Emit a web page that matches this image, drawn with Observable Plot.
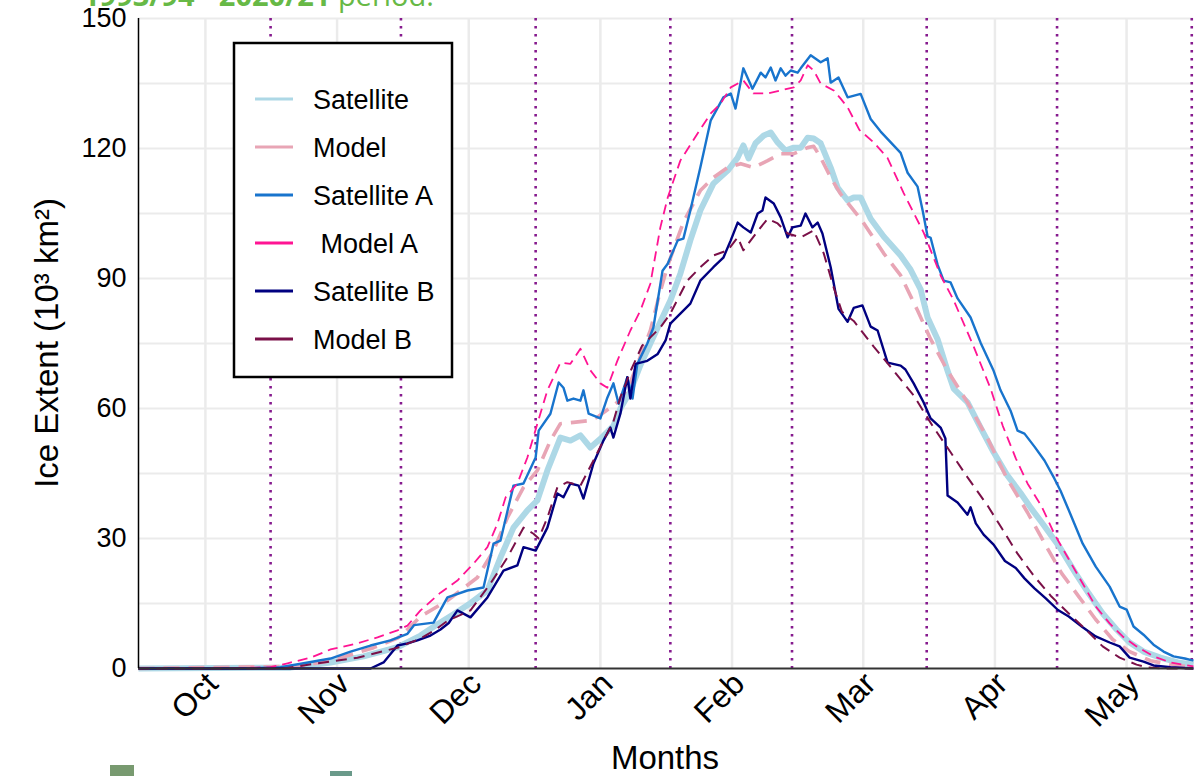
<!DOCTYPE html>
<html><head><meta charset="utf-8">
<script src="https://cdn.jsdelivr.net/npm/d3@7"></script>
<script src="https://cdn.jsdelivr.net/npm/@observablehq/plot@0.6"></script>
<style>
html,body{margin:0;padding:0;background:#fff;}
body{width:1204px;height:776px;overflow:hidden;position:relative;font-family:"Liberation Sans",Arial,sans-serif;}
#hdr{position:absolute;left:83px;top:-20px;font-family:"Open Sans",sans-serif;font-size:29px;line-height:29px;color:#67b946;white-space:nowrap;}
#chart{position:absolute;left:0;top:0;}
.sq{position:absolute;}
</style></head><body>
<div id="chart"></div>
<div id="hdr"><b>1993/94 - 2020/21</b> period.</div>
<div class="sq" style="left:110px;top:765px;width:24px;height:11px;background:#789a70"></div>
<div class="sq" style="left:330px;top:771px;width:22px;height:5px;background:#6a9a8a"></div>
<script>
// ---- data: [day of season (0 = 1 Oct), ice extent (10^3 km^2)] ----
const satellite = [[-15.4,0],[19.6,0.2],[28.8,1.4],[36.4,2.8],[44.2,4.9],[49.5,7.6],[53.4,10.2],[57.1,12.5],[60.9,15],[64.9,18],[67.9,25.6],[70.9,32.5],[74.1,36.5],[76.4,38.8],[78.7,45.7],[81.7,53.3],[84.0,52.6],[86.3,53.8],[88.6,51],[90.9,53],[93.9,56],[95.5,60],[97.8,64],[100.1,70],[102.4,75],[104.1,78.7],[107.0,84.9],[109.3,91.1],[111.6,98.8],[113.9,105.7],[116.9,111.9],[120.2,114.9],[122.5,117.9],[123.8,120.7],[125.0,117.7],[126.6,121.2],[128.5,123],[130.1,123.7],[131.7,121.4],[133.5,119.5],[135.4,120.2],[137.0,120.2],[138.6,122.5],[140.0,122.3],[141.6,121.2],[143.9,115.6],[145.5,111],[147.8,108],[149.2,108.7],[150.8,108.7],[153.1,103.8],[156.1,99.7],[160.0,95.3],[162.3,92],[164.6,87.5],[166.2,81],[168.5,76],[170.8,68.7],[172.2,64.6],[175.4,61.4],[178.4,55.6],[181.4,49.9],[184.6,44.5],[187.6,40.5],[190.0,37],[192.4,33.8],[196.6,28],[200.3,21.9],[203.3,17.3],[206.5,12.7],[209.7,9],[212.7,6],[215.9,3.9],[219.8,2.5],[223.8,1.4],[227.4,0.9]];
const model = [[-15.4,0],[21.2,0.5],[28.8,1.8],[38.7,4.8],[44.2,7],[46.5,9],[49.5,12],[55.7,15.7],[62.6,21],[66.3,27.2],[69.5,34.8],[73.2,41.8],[76.4,45.7],[79.4,52.6],[81.7,56.5],[84.7,56.8],[88.2,57.2],[90.2,58],[93.2,60.2],[95.5,62],[97.8,66],[100.1,72],[102.4,78],[104.4,86],[106.4,93],[110.0,103],[113.9,110.3],[116.9,113.3],[120.2,115.6],[123.2,116.5],[126.1,115.6],[129.4,117.2],[132.4,118.8],[135.4,118.8],[138.6,120.2],[140.0,120.5],[141.6,117.9],[143.9,113.3],[146.2,109.5],[149.2,105.7],[151.2,103.2],[156.1,95.8],[160.0,90.7],[163.9,82.6],[166.9,76],[170.8,68.7],[175.4,61.4],[180.0,53.1],[184.4,44],[189.2,36],[193.4,28.4],[197.1,21.9],[201.0,16.6],[204.9,11.3],[208.8,6.7],[212.7,3.9],[217.5,1.8],[222.1,0.9],[227.4,0.3]];
const satelliteA = [[-15.4,0],[10,0],[17.3,0.3],[22.6,1.2],[28.8,2.3],[33.4,3.9],[38.0,5.3],[42.6,6.5],[46.5,8.0],[48.0,10.0],[52.5,10.6],[55.7,16.4],[60.3,18],[64.0,18.7],[66.3,28.8],[67.9,29.5],[70.9,42.2],[73.2,42.7],[76.0,48.7],[76.7,54.9],[79.4,58.8],[81.3,66],[82.4,64.8],[83.3,61.8],[84.7,62.3],[86.3,61.8],[87.0,64.2],[88.2,58.8],[90.9,57.7],[92.5,62.5],[93.9,65.8],[95.1,61.1],[97.1,67.2],[98.3,62.3],[99.4,70.3],[101.7,75],[103.1,78.7],[105.2,91.8],[106.4,93.4],[108.7,98.8],[110.0,99.2],[111.6,105.7],[113.9,115.6],[116.3,126.5],[119.2,131.8],[120.9,132.7],[122.0,129.2],[123.8,138.5],[125.9,133.8],[127.8,137.5],[128.9,136.4],[130.1,138.7],[131.2,135.7],[132.4,138.5],[133.5,136.8],[134.7,138],[136.3,137.5],[137.0,138.5],[139.3,141.5],[141.6,139.9],[143.2,140.8],[143.9,135.2],[145.7,136.4],[147.8,131.8],[150.8,132.6],[153.1,126.8],[155.4,123.9],[160.0,119],[161.6,114.4],[163.9,111.2],[165.1,105.5],[166.2,99.7],[166.9,99.4],[168.5,93.2],[169.9,89.5],[171.5,89.1],[173.1,85.4],[176.1,81],[178.4,75.2],[181.4,68.7],[183.0,64.2],[185.3,59.5],[186.9,54.9],[188.5,54.2],[190.8,51.2],[193.1,48],[195.4,43.8],[196.8,41],[198.7,36.5],[201.9,28.8],[204.9,23.5],[208.1,18.9],[210.4,14.3],[212.0,13.6],[213.6,9.7],[215.9,7.8],[218.2,5.5],[220.5,3.9],[222.8,2.8],[225.4,2.3],[227.4,1.8]];
const modelA = [[-15.4,0],[4,0],[15,0.3],[18.9,1.2],[24.2,2.5],[28.8,4.4],[35,5.8],[39.6,7.2],[44.2,8.8],[46.5,9.9],[49.5,13.4],[54.1,17.5],[58.0,20.3],[61.7,24.2],[64.9,28],[67.2,33.4],[69.1,39.5],[71.8,42.7],[74.1,48.7],[76.4,56.5],[78.7,64.2],[81.7,70.6],[84.0,70.3],[86.3,73.8],[88.6,68.8],[90.9,65.8],[92.5,64.8],[94.8,71],[97.8,78],[100.1,82.6],[102.4,88.8],[104.7,101.8],[106.4,108.7],[109.3,117.2],[113.3,123.5],[116.3,128.1],[118.6,130.4],[120.9,134.1],[123.8,135.7],[126.1,132.7],[129.4,132.7],[132.4,133.4],[135.4,134.1],[137.0,135.7],[138.6,139.2],[140.0,138],[141.6,135],[144.6,133.4],[146.2,131.5],[147.8,129.5],[150.5,124.3],[153.8,121.4],[157.0,117.8],[160.7,109.7],[165.3,100.6],[169.2,90.7],[172.2,85],[176.8,74.3],[180.7,64.6],[183.5,56],[186.5,48.5],[189.2,42.7],[192.4,37.5],[195.4,31],[198.7,25.2],[201.9,19.6],[204.9,14.3],[208.1,10.4],[211.1,7.4],[214.3,5.1],[218.2,2.8],[222.1,1.4],[227.4,0.5]];
const satelliteB = [[-15.4,0],[38,0],[41,1.4],[44.2,5.3],[46.5,5.8],[48.8,6.5],[51.8,7.6],[54.1,9.0],[56,10.5],[58.0,13.4],[61.0,11.8],[64.9,16.4],[68.6,22.6],[71.8,23.8],[73.2,28],[76.0,27.2],[78.7,32.5],[81.0,40.4],[82.4,39.5],[84.0,42.7],[85.9,42.2],[87.0,39.2],[89.3,47.3],[91.6,52.6],[93.2,55.6],[93.9,53.3],[95.5,58.8],[97.1,67.2],[97.8,62.3],[99.0,70.3],[101.7,71],[104.1,72.6],[105.9,75.7],[107.0,79.6],[109.3,81.9],[111.6,84.2],[113.9,89.5],[116.9,92.6],[119.2,94.8],[120.9,98.8],[122.5,102.9],[123.8,101.8],[125.5,100.6],[127.1,105],[128.2,105.7],[128.9,108.7],[130.8,107.3],[132.4,104.1],[134.0,99.5],[135.1,101.8],[137.0,102.2],[138.1,105],[139.7,101.8],[140.9,102.9],[142.0,100.4],[143.9,92.6],[145.7,83],[147.8,80],[149.2,83.2],[151.2,83.8],[153.1,78.9],[154.7,78],[157.0,70.6],[160.0,69.9],[161.1,69],[163.0,65.8],[165.3,61.4],[166.9,57.7],[169.2,55.6],[170.3,53.1],[170.8,39.9],[173.1,38.3],[175.4,35.5],[176.1,37.2],[177.3,33.5],[179.1,30.9],[181.4,28.6],[184.0,24.8],[186.5,23.2],[188.5,20.8],[190.8,18.5],[193.4,16.2],[196.2,13.5],[198.7,12],[201.9,9.5],[204.9,7.4],[208.1,6],[210.4,5.1],[212.7,2.5],[215.9,1.6],[218.2,0.7],[222.1,0.3],[227.4,0]];
const modelB = [[-15.4,0],[18,0],[25.8,1.2],[35,2.5],[44.2,4.8],[49.5,6.9],[53,9],[55.7,11],[61.0,13.4],[65.6,19.6],[69.5,25.6],[73.2,32.5],[75.5,31.1],[76.7,30],[78.7,34.8],[81.0,41.8],[83.3,43],[86.3,42.2],[89.3,48],[91.6,52.6],[93.9,57],[95.5,62.6],[98,69],[100.5,74.5],[104.7,78.7],[107.0,81.9],[110.9,89.5],[113.9,92.6],[116.9,95.3],[120.2,96.5],[122.5,99.5],[123.8,96.5],[125.5,98.8],[127.8,101.8],[129.4,103.8],[131.7,102.7],[134.0,100.4],[137.0,99.5],[140.0,101.1],[142.3,95.8],[144.6,87.9],[146.5,82.3],[149.2,80.2],[153.8,74.3],[158.4,68.7],[163.0,63],[167.6,55.6],[171.5,49.9],[175.4,44.1],[180.0,37.6],[183.5,32],[186.9,26.5],[190.8,21.2],[194.7,16.6],[198.7,12.7],[202.6,9],[206.5,5.1],[210.4,2.5],[214.3,0.9],[216.5,0.3],[220,0],[227.4,0]];

const seriesNames = ["Satellite", "Model", "Satellite A", " Model A", "Satellite B", "Model B"];
const seriesData = [satellite, model, satelliteA, modelA, satelliteB, modelB];

// axis ticks
const monthTicks = [0, 30.3, 60.6, 90.9, 121.2, 151.4, 181.7, 212];
const monthLabels = ["Oct", "Nov", "Dec", "Jan", "Feb", "Mar", "Apr", "May"];
const midMonthDays = [15, 45, 76, 107, 135, 166, 196, 227];
const yTicks = [0, 30, 60, 90, 120, 150];
const yGrid = [15, 30, 45, 60, 75, 90, 105, 120, 135, 150];

// styles
const seriesColors = ["#add8e6", "#e8a5b5", "#1874cd", "#ff1493", "#000080", "#7a1048"];
const seriesWidths = [6, 3.6, 2.4, 1.8, 2.4, 2];
const seriesDash = [null, "16,9", null, "10,6", null, "11,7"];

const rows = seriesNames.flatMap((name, i) => seriesData[i].map(([day, value]) => ({series: name, day, value})));

const xDomain = [-15.4, 227.4];

const lineMarks = seriesNames.map((name, i) =>
  Plot.line(rows.filter(r => r.series === name), {
    x: "day", y: "value",
    stroke: seriesColors[i], strokeWidth: seriesWidths[i],
    strokeDasharray: seriesDash[i] || undefined,
    strokeLinejoin: "round", strokeLinecap: "butt"
  })
);

const chart = Plot.plot({
  width: 1204, height: 776,
  marginLeft: 138, marginRight: 11, marginTop: 18, marginBottom: 108,
  style: {fontFamily: "'Liberation Sans', Arial, sans-serif", fontSize: "27px", color: "#000", background: "#fff"},
  x: {domain: xDomain},
  y: {domain: [0, 150]},
  marks: [
    Plot.gridY(yGrid, {stroke: "#ebebeb", strokeOpacity: 1, strokeWidth: 2}),
    Plot.gridX(monthTicks, {stroke: "#ebebeb", strokeOpacity: 1, strokeWidth: 2.5}),
    Plot.ruleX(midMonthDays, {stroke: "#861a8e", strokeWidth: 2.6, strokeDasharray: "2.6,5.4"}),
    ...lineMarks,
    Plot.ruleY([0], {stroke: "#333", strokeWidth: 2}),
    Plot.ruleX([xDomain[0]], {stroke: "#000", strokeWidth: 1.5}),
    Plot.axisY(yTicks, {tickSize: 0, tickPadding: 12, label: null, fontSize: 27}),
    Plot.axisX(monthTicks, {tickSize: 0, tickPadding: 10, tickRotate: -45, label: null, fontSize: 32, dx: 7,
      tickFormat: (d) => monthLabels[monthTicks.indexOf(d)]})
  ]
});
document.getElementById("chart").appendChild(chart);

// axis titles and legend drawn into the same svg
const svg = d3.select(chart);
svg.append("text").attr("transform", "translate(58,343) rotate(-90)")
  .attr("text-anchor", "middle").attr("font-size", 33).attr("fill", "#000")
  .text("Ice Extent (10³ km²)");
svg.append("text").attr("x", 665).attr("y", 769)
  .attr("text-anchor", "middle").attr("font-size", 33).attr("fill", "#000")
  .text("Months");

const lg = svg.append("g").attr("text-anchor", "start");
lg.append("rect").attr("x", 234).attr("y", 43).attr("width", 218).attr("height", 334)
  .attr("fill", "#fff").attr("stroke", "#000").attr("stroke-width", 2.5);
seriesNames.forEach((name, i) => {
  const cy = 99 + i * 48;
  lg.append("line").attr("x1", 255).attr("x2", 293).attr("y1", cy).attr("y2", cy)
    .attr("stroke", seriesColors[i]).attr("stroke-width", 3);
  lg.append("text").attr("x", 313).attr("y", cy + 9.5).attr("font-size", 27)
    .attr("text-anchor", "start").attr("fill", "#000").style("white-space", "pre").text(name);
});
</script>
</body></html>
